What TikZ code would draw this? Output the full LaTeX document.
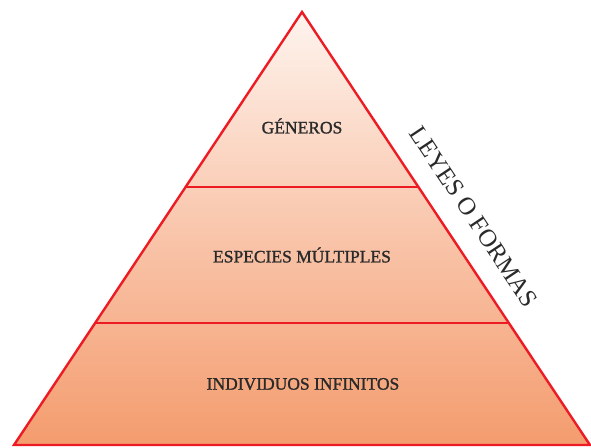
\documentclass[tikz,border=0pt]{standalone}
\usepackage{fontspec}
\setmainfont{Liberation Serif}
\newfontfamily\semib[FakeBold=1.3]{Liberation Serif}
\usetikzlibrary{calc}
\definecolor{edgered}{HTML}{ED1C24}
\definecolor{txt}{HTML}{2A2A2A}
\definecolor{topc}{HTML}{FEF4EE}
\definecolor{midc}{HTML}{F9C6AC}
\definecolor{botc}{HTML}{F49C6E}
\begin{document}
\begin{tikzpicture}[x=1pt,y=-1pt,
  redline/.style={draw=edgered,line width=2.4pt,line join=miter},
  label/.style={text=txt,font=\semib\fontsize{17.5}{20}\selectfont,inner sep=0pt},
  side/.style={text=txt,font=\fontsize{25}{28}\selectfont,inner sep=0pt}]
\useasboundingbox (0,0) rectangle (591,447);
\coordinate (apex) at (302,12);
\coordinate (bl) at (14,445);
\coordinate (br) at (590,445);
\coordinate (l1) at ($(apex)!0.4042!(bl)$);
\coordinate (r1) at ($(apex)!0.4042!(br)$);
\coordinate (l2) at ($(apex)!0.7182!(bl)$);
\coordinate (r2) at ($(apex)!0.7182!(br)$);
\shade[top color=topc,bottom color=botc,middle color=midc] (apex) -- (bl) -- (br) -- cycle;
\draw[redline] (l1) -- (r1);
\draw[redline] (l2) -- (r2);
\draw[redline] (apex) -- (bl) -- (br) -- cycle;
\node[label] (g) at (302,126) {GÉNEROS};
\node[label] (e) at (302,255) {ESPECIES MÚLTIPLES};
\node[label] (i) at (303,384) {INDIVIDUOS INFINITOS};
\node[side,rotate=-56.4] (s) at (474,217) {LEYES O FORMAS};
\end{tikzpicture}
\end{document}
